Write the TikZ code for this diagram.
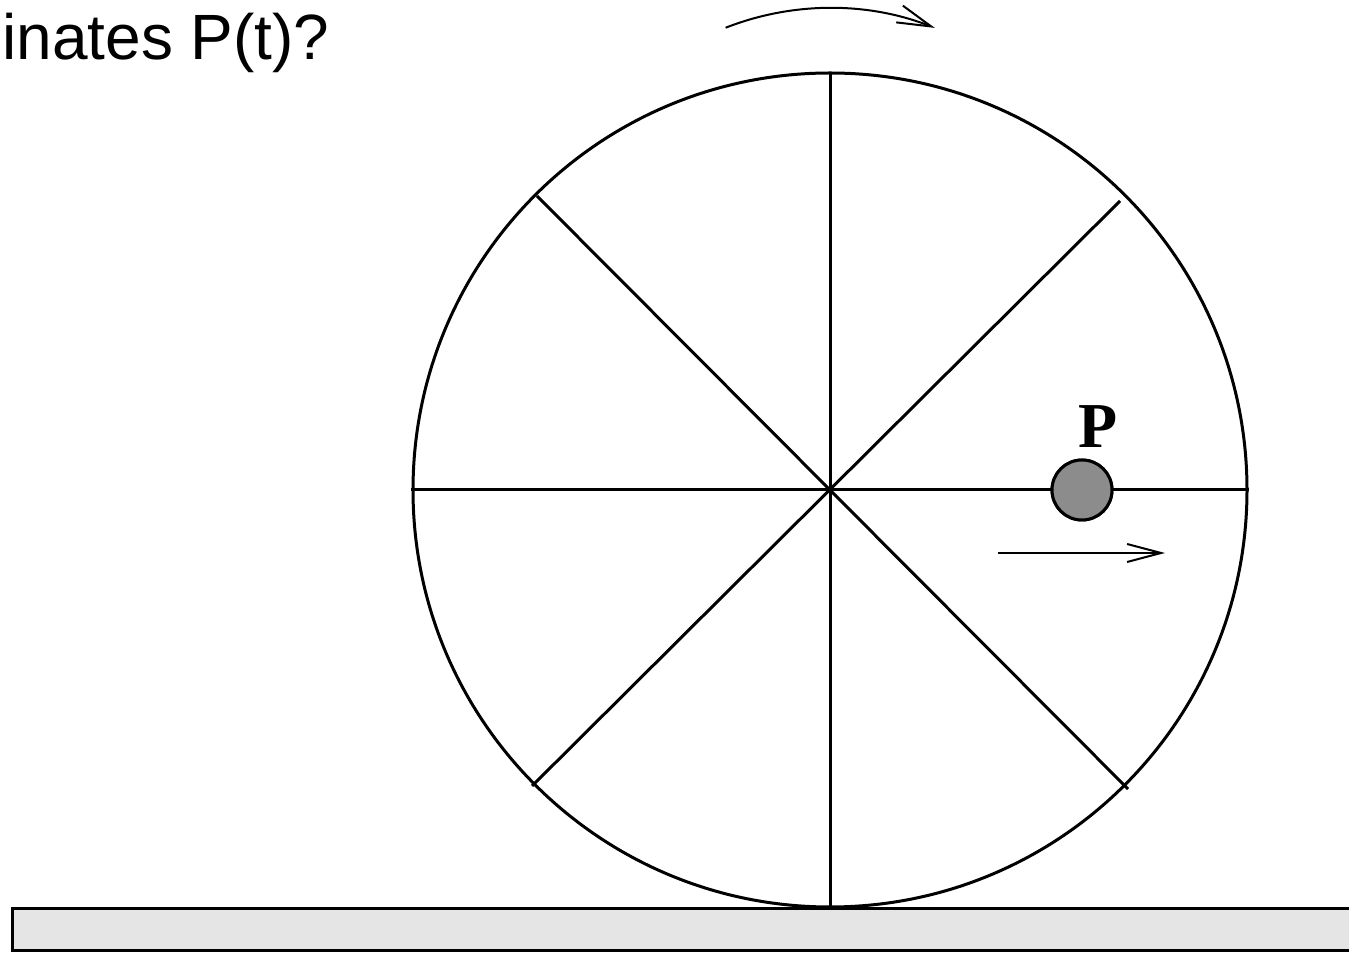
\documentclass[tikz,border=0pt]{standalone}
\usepackage{fontspec}
\setmainfont{Liberation Serif}
\setsansfont{Liberation Sans}
\usetikzlibrary{arrows.meta}
\usetikzlibrary{positioning}

\begin{document}
\begin{tikzpicture}[x=0.5pt, y=0.5pt,
		w/.style = {line width=1.5pt},
		g/.style = {draw, line width=1.5pt, fill=black!10},
		b/.style = {circle, draw, line width=1.5pt, fill=black!45, minimum size=30pt, inner sep=0pt},
		r/.style = {-{Straight Barb[length=17pt, width=9pt]}, line width=1pt}
		]
		\useasboundingbox (0, 0) rectangle (1349, 953);
		
		%Nodes
		\node[anchor=base west, font=\sffamily\fontsize{32}{38}\selectfont, inner sep=0pt]
			(title) at (2, 893) {inates P(t)?};
		\coordinate	(c)		at	(830, 463);
		\node[b]	(ball)	at	(1082, 463)	{};
		\node[anchor=base, font=\fontsize{32}{38}\selectfont\bfseries, inner sep=0pt]
			(plabel) at (1098, 505) {P};
		\coordinate	(vs)	at	(998, 400);
		\coordinate	(ve)	at	(1165, 400);
		
		%Ground
		\draw[g]	(12, 3) rectangle (1370, 44);
		
		%Wheel
		\draw[w]	(c) circle (417);
		\draw[w]	(830, 880)	--	(830, 46);
		\draw[w]	(411, 463)	--	(1249, 463);
		\draw[w]	(537, 757)	--	(1128, 164);
		\draw[w]	(532, 167)	--	(1120, 752);
		
		%Ball
		\node[b]	at	(ball)	{};
		
		%Arrows
		\draw[r]	(vs)	--	(ve);
		\draw[r]	(830, 659) ++(111.4:286) arc[start angle=111.4, end angle=68.5, radius=286];
\end{tikzpicture}
\end{document}
